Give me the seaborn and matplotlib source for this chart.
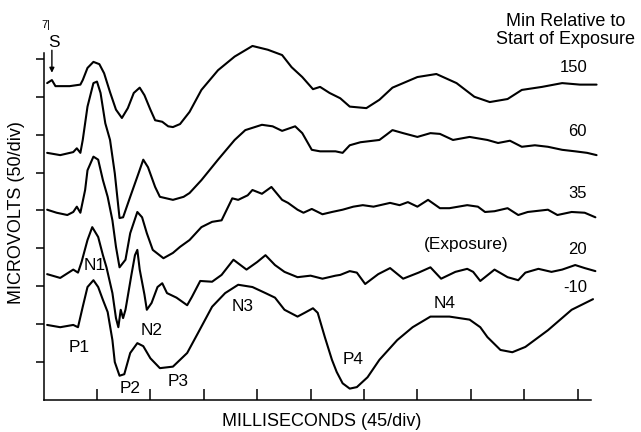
import pandas as pd
import seaborn as sns
import matplotlib.pyplot as plt

# ==========================================
# Data: evoked potentials
# time in ms (45 ms/div), amplitude in microvolts (50 uV/div, traces stacked)
# ==========================================
T_150 = [3, 7, 10, 22, 31, 33, 37, 42, 47, 51, 56, 61, 66, 71, 76, 81, 85, 90, 94, 100,
         105, 109, 115, 123, 133, 147, 161, 176, 189, 201, 209, 218, 227, 233, 241, 250,
         258, 272, 283, 294, 315, 331, 348, 363, 376, 391, 403, 420, 437, 452, 466]
V_150 = [418, 422, 414, 414, 416, 422, 438, 446, 443, 431, 406, 383, 372, 385, 405, 412,
         402, 383, 369, 367, 361, 360, 364, 380, 409, 435, 453, 467, 462, 455, 439, 426,
         410, 413, 405, 398, 387, 385, 396, 412, 426, 430, 418, 400, 393, 397, 409, 413,
         418, 416, 416]

T_60 = [3, 14, 25, 28, 31, 33, 37, 42, 45, 48, 52, 56, 60, 64, 67, 73, 80, 84, 88, 94,
        98, 109, 118, 123, 133, 147, 161, 170, 184, 193, 201, 212, 218, 226, 233, 246,
        252, 258, 267, 283, 289, 294, 303, 315, 326, 334, 345, 359, 374, 383, 393, 403,
        414, 425, 437, 448, 458, 466]
V_60 = [326, 323, 327, 332, 326, 343, 387, 418, 420, 405, 365, 343, 299, 240, 241, 268,
        299, 317, 307, 281, 268, 264, 268, 273, 290, 317, 343, 356, 363, 361, 355, 361,
        352, 330, 328, 328, 326, 336, 340, 343, 350, 356, 352, 347, 352, 351, 343, 347,
        343, 339, 342, 334, 336, 334, 330, 328, 326, 323]

T_35 = [3, 11, 20, 25, 28, 31, 35, 37, 42, 46, 50, 54, 58, 61, 64, 69, 73, 79, 83, 87,
        92, 101, 109, 115, 123, 133, 142, 150, 159, 164, 172, 176, 184, 192, 201, 206,
        214, 219, 226, 235, 243, 252, 261, 269, 278, 292, 300, 307, 315, 324, 334, 342,
        357, 366, 372, 380, 391, 400, 408, 425, 433, 445, 456, 465]
V_35 = [251, 247, 244, 248, 255, 247, 277, 303, 321, 317, 290, 268, 237, 202, 175, 185,
        220, 248, 241, 220, 198, 187, 194, 202, 211, 228, 235, 237, 266, 264, 270, 277,
        272, 281, 264, 260, 251, 247, 252, 245, 248, 251, 255, 257, 255, 260, 257, 261,
        255, 264, 253, 253, 257, 255, 248, 249, 253, 244, 248, 251, 244, 248, 247, 241]

T_20 = [3, 14, 25, 29, 32, 37, 41, 46, 50, 53, 58, 61, 63, 65, 67, 69, 70, 74, 77, 79,
        81, 85, 87, 91, 96, 100, 104, 112, 121, 125, 132, 142, 150, 160, 171, 180, 187,
        195, 203, 214, 225, 235, 246, 250, 258, 264, 271, 282, 292, 303, 316, 326, 335,
        347, 357, 362, 368, 380, 391, 400, 406, 417, 428, 437, 448, 456, 465]
V_20 = [166, 161, 172, 168, 182, 211, 228, 215, 191, 175, 141, 108, 96, 119, 108, 119,
        128, 165, 191, 198, 172, 139, 119, 128, 149, 154, 141, 135, 125, 136, 157, 156,
        165, 185, 172, 182, 191, 178, 169, 162, 164, 160, 164, 165, 170, 168, 153, 166,
        174, 160, 168, 175, 160, 169, 173, 169, 157, 172, 162, 158, 168, 173, 169, 172,
        178, 174, 170]

T_M10 = [3, 14, 25, 29, 33, 37, 42, 46, 50, 54, 58, 60, 64, 68, 73, 79, 84, 90, 98, 109,
         121, 130, 142, 153, 164, 176, 187, 195, 203, 214, 220, 227, 231, 237, 243, 247,
         252, 258, 264, 273, 283, 298, 311, 326, 342, 359, 368, 374, 385, 395, 406, 425,
         445, 463]
V_M10 = [99, 96, 99, 96, 123, 149, 158, 149, 132, 116, 79, 50, 32, 34, 62, 75, 71, 55,
         42, 44, 62, 88, 123, 141, 152, 149, 141, 135, 119, 110, 115, 121, 115, 83, 53,
         37, 22, 15, 17, 30, 53, 79, 96, 110, 110, 106, 96, 83, 66, 63, 70, 92, 119, 133]

TRACE_NAMES = ['150', '60', '35', '20', '-10']
TRACE_T = [T_150, T_60, T_35, T_20, T_M10]
TRACE_V = [V_150, V_60, V_35, V_20, V_M10]

X_TICKS = [45, 90, 135, 180, 225, 270, 315, 360, 405, 450]
Y_TICKS = [50, 100, 150, 200, 250, 300, 350, 400, 450]

# text placed on the figure (label, time, amplitude)
TRACE_LABELS = [('150', 458, 438), ('60', 458, 354), ('35', 458, 272),
                ('20', 458, 199), ('-10', 458, 148)]
PEAK_LABELS = [('N1', 43, 177), ('P1', 30, 69), ('N2', 91, 92), ('P2', 73, 15),
               ('P3', 113, 24), ('N3', 168, 123), ('N4', 338, 127), ('P4', 261, 53),
               ('(Exposure)', 356, 205)]

# ==========================================
# Plot
# ==========================================
rows = []
for name, ts, vs in zip(TRACE_NAMES, TRACE_T, TRACE_V):
    for t, v in zip(ts, vs):
        rows.append({'trace': name, 'time': t, 'amp': v})
df = pd.DataFrame(rows)

sns.set_style('white')
plt.rcParams['font.family'] = ['Liberation Sans', 'DejaVu Sans']
plt.rcParams['text.color'] = 'black'
plt.rcParams['axes.labelcolor'] = 'black'

fig = plt.figure(figsize=(6.41, 4.32), dpi=100)
ax = fig.add_axes([0.068, 0.0741, 0.8886, 0.9213])

sns.lineplot(data=df, x='time', y='amp', units='trace', estimator=None, sort=False,
             color='black', linewidth=1.5, ax=ax, legend=False)

ax.set_xlim(0, 480)
ax.set_ylim(0, 525)
for side in ['top', 'right']:
    ax.spines[side].set_visible(False)
for side in ['left', 'bottom']:
    ax.spines[side].set_color('black')
    ax.spines[side].set_linewidth(1.1)
ax.spines['left'].set_bounds(0, 458)
ax.spines['bottom'].set_bounds(0, 461)

ax.set_xticks(X_TICKS)
ax.set_yticks(Y_TICKS)
ax.set_xticklabels([])
ax.set_yticklabels([])
ax.tick_params(axis='x', direction='in', length=8, width=1.1, color='black', bottom=True)
ax.tick_params(axis='y', direction='out', length=6, width=1.1, color='black', left=True)

ax.set_xlabel('MILLISECONDS (45/div)', fontsize=13)
ax.xaxis.set_label_coords(0.4888, -0.033)
ax.set_ylabel('MICROVOLTS (50/div)', fontsize=13)
ax.yaxis.set_label_coords(-0.033, 0.472)

ax.text(440, 487, 'Min Relative to\nStart of Exposure', fontsize=13,
        ha='center', va='center', multialignment='center', linespacing=1.05)
for txt, t, v in TRACE_LABELS:
    ax.text(t, v, txt, fontsize=12, ha='right', va='center')
for txt, t, v in PEAK_LABELS:
    ax.text(t, v, txt, fontsize=12.4, ha='center', va='center')

# stimulus marker
ax.text(2, 495, '7|', fontsize=8, ha='center', va='center')
ax.text(9, 472, 'S', fontsize=12.4, ha='center', va='center')
ax.annotate('', xy=(7, 428), xytext=(7, 465),
            arrowprops=dict(arrowstyle='-|>', color='black', lw=1.0, mutation_scale=7))

plt.savefig('out.png', dpi=100)
plt.close()
